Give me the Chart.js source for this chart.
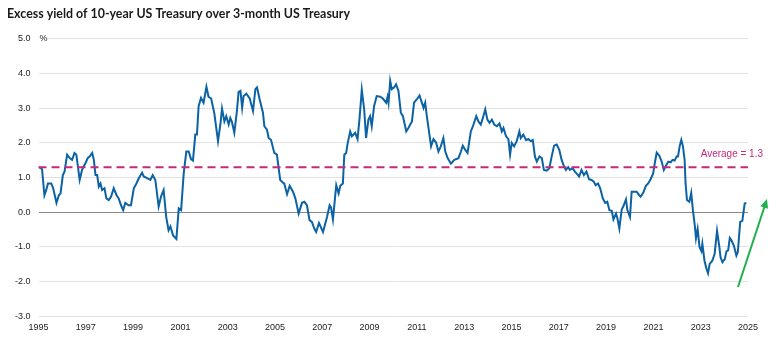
<!DOCTYPE html>
<html>
<head>
<meta charset="utf-8">
<script src="https://cdn.jsdelivr.net/npm/chart.js@4.4.1/dist/chart.umd.min.js"></script>
<style>
  body { margin: 0; background: #fff; }
  #wrap { width: 781px; height: 348px; }
</style>
</head>
<body>
<div id="wrap"><canvas id="spreadChart" width="781" height="348"></canvas></div>
<script>
// decimal year of each reading
const dates = [
  1995.00, 1995.08, 1995.15, 1995.25, 1995.33, 1995.40, 1995.54, 1995.62, 1995.76, 1995.86, 1995.93,
  1996.03, 1996.10, 1996.21, 1996.32, 1996.42, 1996.52, 1996.60, 1996.74, 1996.84, 1996.99,
  1997.08, 1997.17, 1997.27, 1997.34, 1997.41, 1997.48, 1997.55, 1997.62, 1997.69, 1997.79, 1997.87, 1997.97,
  1998.07, 1998.18, 1998.30, 1998.39, 1998.49, 1998.58, 1998.67, 1998.81, 1998.91,
  1999.03, 1999.14, 1999.24, 1999.38, 1999.45, 1999.59, 1999.73, 1999.83, 1999.94,
  2000.08, 2000.18, 2000.29, 2000.40, 2000.50, 2000.58, 2000.69, 2000.83, 2000.93,
  2001.03, 2001.14, 2001.25, 2001.35, 2001.45, 2001.53, 2001.63, 2001.70, 2001.77, 2001.87, 2001.98,
  2002.10, 2002.19, 2002.30, 2002.43, 2002.59, 2002.69, 2002.76, 2002.86, 2002.94,
  2003.04, 2003.11, 2003.18, 2003.28, 2003.39, 2003.46, 2003.54, 2003.61, 2003.67, 2003.79, 2003.93,
  2004.07, 2004.17, 2004.24, 2004.35, 2004.49, 2004.55, 2004.66, 2004.73, 2004.83, 2004.97,
  2005.08, 2005.22, 2005.34, 2005.39, 2005.51, 2005.62, 2005.76, 2005.86,
  2006.00, 2006.14, 2006.24, 2006.35, 2006.46, 2006.56, 2006.66, 2006.74, 2006.86,
  2007.03, 2007.20, 2007.31, 2007.37, 2007.45, 2007.59, 2007.69, 2007.76, 2007.87, 2007.93,
  2008.01, 2008.07, 2008.18, 2008.25, 2008.39, 2008.49, 2008.57, 2008.67, 2008.77, 2008.85, 2008.95,
  2009.02, 2009.09, 2009.19, 2009.30, 2009.45, 2009.56, 2009.70, 2009.76, 2009.80, 2009.87, 2009.94,
  2010.04, 2010.12, 2010.22, 2010.32, 2010.41, 2010.55, 2010.64, 2010.79, 2010.88,
  2011.00, 2011.11, 2011.21, 2011.28, 2011.35, 2011.42, 2011.53, 2011.60, 2011.70, 2011.81, 2011.91,
  2012.01, 2012.12, 2012.20, 2012.30, 2012.44, 2012.58, 2012.76, 2012.86, 2012.94,
  2013.04, 2013.14, 2013.28, 2013.37, 2013.51, 2013.60, 2013.70, 2013.79, 2013.89, 2013.98,
  2014.07, 2014.17, 2014.27, 2014.38, 2014.49, 2014.59, 2014.66, 2014.77, 2014.87, 2014.94,
  2015.01, 2015.11, 2015.22, 2015.33, 2015.39, 2015.50, 2015.62, 2015.71, 2015.81, 2015.90, 2015.99,
  2016.07, 2016.18, 2016.28, 2016.37, 2016.49, 2016.60, 2016.70, 2016.80, 2016.91,
  2017.02, 2017.12, 2017.22, 2017.30, 2017.40, 2017.47, 2017.58, 2017.68, 2017.75, 2017.86, 2017.96,
  2018.06, 2018.17, 2018.28, 2018.38, 2018.48, 2018.56, 2018.66, 2018.75, 2018.86, 2018.96,
  2019.05, 2019.14, 2019.24, 2019.31, 2019.42, 2019.48, 2019.56, 2019.66, 2019.73, 2019.84, 2019.90,
  2020.01, 2020.08, 2020.18, 2020.29, 2020.40, 2020.46, 2020.57, 2020.68, 2020.78, 2020.88, 2020.99,
  2021.06, 2021.14, 2021.25, 2021.35, 2021.44, 2021.53, 2021.63, 2021.73, 2021.81, 2021.90, 2021.98,
  2022.04, 2022.11, 2022.18, 2022.25, 2022.32, 2022.36, 2022.42, 2022.52, 2022.60, 2022.67, 2022.75, 2022.80, 2022.87, 2022.95,
  2023.03, 2023.07, 2023.16, 2023.24, 2023.31, 2023.38, 2023.49, 2023.59, 2023.69, 2023.78, 2023.84, 2023.92,
  2024.02, 2024.09, 2024.16, 2024.23, 2024.30, 2024.40, 2024.51, 2024.57, 2024.67, 2024.76, 2024.86, 2024.93
];

// 10y minus 3m yield, percentage points
const spread = [
  1.30, 1.28, 1.24, 0.49, 0.65, 0.83, 0.83, 0.69, 0.27, 0.49, 0.54,
  1.07, 1.17, 1.66, 1.56, 1.51, 1.71, 1.66, 0.93, 1.22, 1.42,
  1.56, 1.61, 1.71, 1.51, 1.07, 1.07, 0.74, 0.83, 0.64, 0.69, 0.40, 0.35,
  0.45, 0.69, 0.49, 0.40, 0.20, 0.06, 0.27, 0.20, 0.20,
  0.69, 0.83, 0.98, 1.14, 1.03, 0.98, 0.93, 1.07, 0.93,
  0.16, 0.45, 0.64, -0.14, -0.52, -0.41, -0.67, -0.77, 0.11,
  0.06, 1.12, 1.75, 1.75, 1.53, 1.49, 2.24, 2.24, 3.06, 3.30, 3.16,
  3.62, 3.33, 3.28, 2.87, 2.05, 2.53, 2.99, 2.62, 2.77,
  2.53, 2.72, 2.60, 2.29, 2.92, 3.47, 3.50, 3.01, 3.35, 3.42, 3.28,
  2.92, 3.55, 3.60, 3.26, 2.87, 2.48, 2.38, 2.14, 2.09, 1.71,
  1.66, 0.93, 0.85, 0.83, 0.52, 0.76, 0.59, 0.40,
  -0.04, 0.27, 0.30, 0.20, -0.23, -0.28, -0.47, -0.57, -0.31,
  -0.57, -0.14, 0.20, 0.14, -0.21, 0.78, 0.54, 0.76, 0.83, 1.66,
  1.71, 1.98, 2.33, 2.19, 2.29, 2.11, 2.67, 3.53, 2.97, 2.14, 2.67,
  2.77, 2.48, 3.06, 3.35, 3.33, 3.28, 3.16, 3.33, 3.16, 3.79, 3.55,
  3.60, 3.69, 3.50, 2.87, 2.77, 2.33, 2.43, 2.62, 3.16,
  3.26, 3.37, 3.16, 3.01, 3.16, 2.77, 2.24, 1.90, 2.11, 2.01, 1.75,
  1.90, 2.14, 1.75, 1.56, 1.40, 1.51, 1.56, 1.75, 1.92,
  1.80, 1.71, 2.33, 2.48, 2.77, 2.62, 2.53, 2.72, 2.97, 2.67,
  2.58, 2.67, 2.53, 2.48, 2.56, 2.33, 2.43, 2.19, 2.11, 1.66,
  2.00, 1.90, 2.05, 2.33, 2.14, 2.24, 2.08, 2.11, 2.05, 2.08, 1.61,
  1.46, 1.61, 1.56, 1.22, 1.20, 1.27, 1.61, 1.92, 1.95,
  1.80, 1.51, 1.32, 1.22, 1.30, 1.22, 1.27, 1.17, 1.12, 1.03, 1.22,
  1.07, 1.17, 0.95, 0.93, 0.88, 0.78, 0.83, 0.69, 0.40, 0.27,
  0.30, 0.06, 0.04, -0.21, -0.04, -0.18, -0.47, 0.08, 0.17, 0.37, 0.06,
  -0.14, 0.59, 0.59, 0.59, 0.49, 0.45, 0.56, 0.76, 0.83, 0.95, 1.12,
  1.42, 1.72, 1.63, 1.46, 1.22, 1.34, 1.46, 1.44, 1.51, 1.49, 1.61,
  1.61, 1.90, 2.09, 1.90, 1.51, 0.83, 0.35, 0.30, 0.56, 0.06, -0.38, -0.75, -0.48, -1.00,
  -1.12, -0.91, -1.40, -1.62, -1.76, -1.49, -1.40, -1.20, -0.54, -0.96, -1.30, -1.44,
  -1.35, -1.13, -1.10, -0.74, -0.81, -0.96, -1.25, -1.15, -0.28, -0.25, 0.25, 0.27
];

const averageValue = 1.3;
const xRange = [1995, 2025];
const yRange = [-3, 5];

const points = dates.map((d, i) => ({ x: d, y: spread[i] }));
const avgPoints = xRange.map(d => ({ x: d, y: averageValue }));

const extras = {
  id: 'extras',
  afterDraw(chart) {
    const c = chart.ctx;
    const ys = chart.scales.y;
    c.save();
    // percent unit next to top tick
    const topY = ys.getPixelForValue(yRange[1]);
    c.fillStyle = '#fff';
    c.fillRect(chart.chartArea.left, topY - 4, 10, 8);
    c.fillStyle = '#222';
    c.font = '9px "Liberation Sans", Arial, sans-serif';
    c.textAlign = 'left';
    c.textBaseline = 'middle';
    c.fillText('%', chart.chartArea.left + 1, topY);
    // average label
    c.fillStyle = '#c7297a';
    c.font = '10px "Liberation Sans", Arial, sans-serif';
    c.textAlign = 'right';
    c.fillText('Average = ' + averageValue.toFixed(1), 763, ys.getPixelForValue(averageValue) - 13);
    // green arrow
    const x0 = 738, y0 = 287, x1 = 767, y1 = 199;
    const ang = Math.atan2(y1 - y0, x1 - x0);
    c.strokeStyle = '#1db04b';
    c.fillStyle = '#1db04b';
    c.lineWidth = 2;
    c.beginPath();
    c.moveTo(x0, y0);
    c.lineTo(x1 - 6 * Math.cos(ang), y1 - 6 * Math.sin(ang));
    c.stroke();
    c.beginPath();
    c.moveTo(x1, y1);
    c.lineTo(x1 - 9 * Math.cos(ang) + 4 * Math.sin(ang), y1 - 9 * Math.sin(ang) - 4 * Math.cos(ang));
    c.lineTo(x1 - 9 * Math.cos(ang) - 4 * Math.sin(ang), y1 - 9 * Math.sin(ang) + 4 * Math.cos(ang));
    c.closePath();
    c.fill();
    c.restore();
  }
};

new Chart(document.getElementById('spreadChart'), {
  type: 'line',
  data: {
    datasets: [{
      label: 'Average',
      data: avgPoints,
      borderColor: '#c7297a',
      borderWidth: 2,
      borderDash: [8, 5],
      pointRadius: 0
    }, {
      label: 'Excess yield',
      data: points,
      borderColor: '#0b62a4',
      borderWidth: 2,
      pointRadius: 0,
      tension: 0
    }]
  },
  options: {
    responsive: false,
    animation: false,
    layout: { padding: { left: 7, right: 33, top: 0, bottom: 9 } },
    plugins: {
      legend: { display: false },
      tooltip: { enabled: false },
      title: {
        display: true,
        text: 'Excess yield of 10-year US Treasury over 3-month US Treasury',
        align: 'start',
        color: '#1a1a1a',
        font: { family: 'Lato', size: 12.4, weight: 'bold' },
        padding: { top: 7, bottom: 17 }
      }
    },
    scales: {
      x: {
        type: 'linear',
        min: xRange[0],
        max: xRange[1],
        grid: { display: false, drawTicks: false },
        border: { display: false },
        ticks: {
          stepSize: 2,
          padding: 6,
          maxRotation: 0,
          color: '#222',
          font: { family: '"Liberation Sans", Arial, sans-serif', size: 9 },
          callback: v => String(v)
        }
      },
      y: {
        min: yRange[0],
        max: yRange[1],
        border: { display: false },
        grid: {
          drawTicks: false,
          color: ctx => ctx.tick.value === 0 ? '#8a8a8a' : '#e2e2e2',
          lineWidth: 1
        },
        ticks: {
          stepSize: 1,
          padding: 8,
          color: '#222',
          font: { family: '"Liberation Sans", Arial, sans-serif', size: 9 },
          callback: v => v.toFixed(1)
        }
      }
    }
  },
  plugins: [extras]
});
</script>
</body>
</html>
